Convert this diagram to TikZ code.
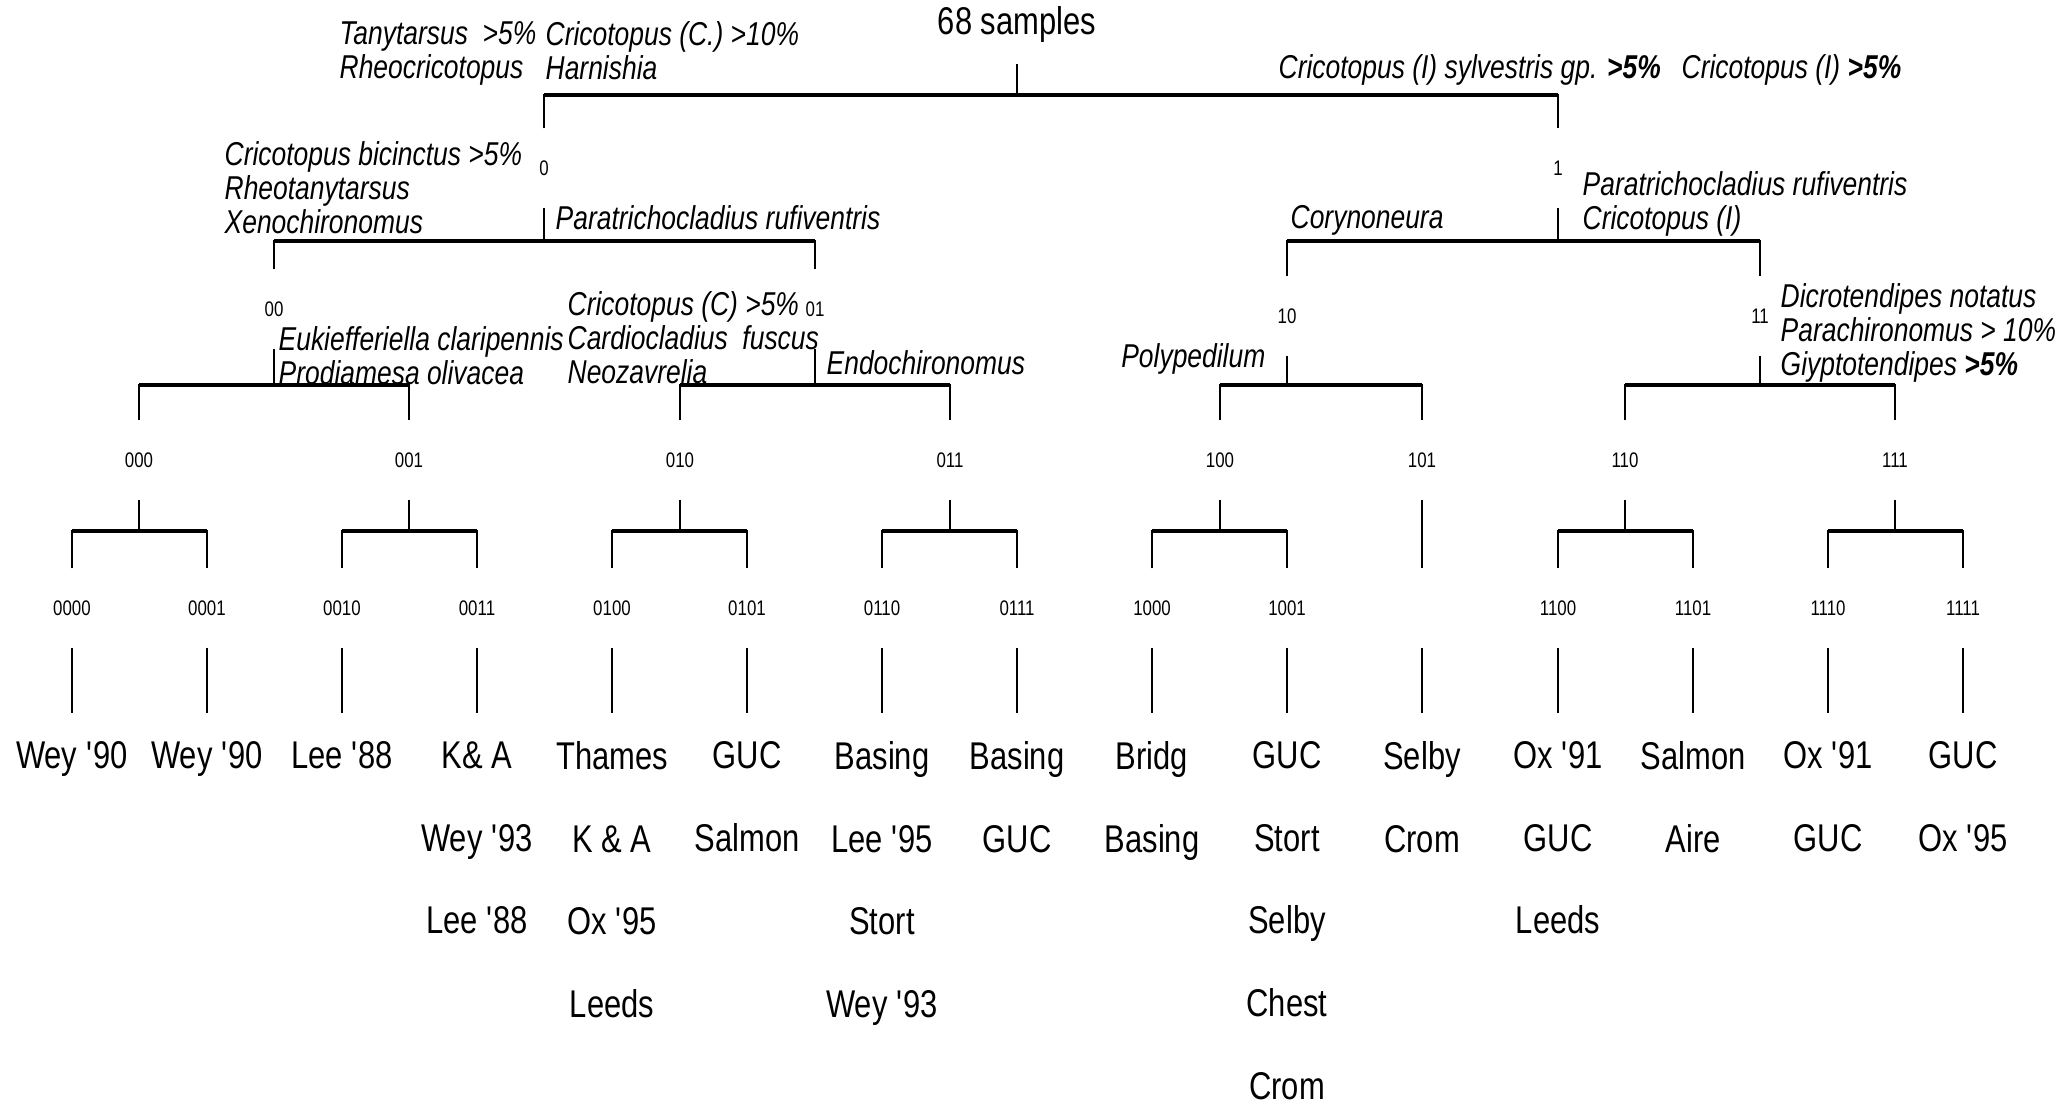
\documentclass[tikz,border=0pt]{standalone}
\usepackage{fontspec}
\setmainfont[FakeStretch=0.8]{Liberation Sans}
\usepackage{tikz}

\begin{document}
\begin{tikzpicture}[x=0.1mm, y=-0.1mm,
  code/.style={font=\fontsize{6}{7}\selectfont, inner sep=0pt, minimum height=7.8mm},
  taxon/.style={font=\fontsize{9.4}{9.7}\selectfont\itshape, align=left, anchor=north west, inner sep=0pt},
  site/.style={font=\fontsize{11}{23.5}\selectfont, align=center, anchor=north, inner sep=0pt},
  stem/.style={line width=0.6pt},
  stemdown/.style={stem, shorten >=2.8mm},
  bar/.style={line width=0.95pt}]

\useasboundingbox (0,0) rectangle (2062,1112);

% Levels of the horizontal bars
\coordinate (lev0) at (0,95);
\coordinate (lev1) at (0,241);
\coordinate (lev2) at (0,385);
\coordinate (lev3) at (0,531);

% Split codes
\node[code, font=\fontsize{11}{13}\selectfont] (root) at (1017,24) {68 samples};
\node[code] (n0) at (544,168) {0};
\node[code] (n1) at (1558,168) {1};
\node[code] (n00) at (274,309) {00};
\node[code] (n01) at (815,309) {01};
\node[code] (n10) at (1287,316) {10};
\node[code] (n11) at (1760,316) {11};
\node[code] (n000) at (139,460) {000};
\node[code] (n001) at (409,460) {001};
\node[code] (n010) at (680,460) {010};
\node[code] (n011) at (950,460) {011};
\node[code] (n100) at (1220,460) {100};
\node[code] (n101) at (1422,460) {101};
\node[code] (n110) at (1625,460) {110};
\node[code] (n111) at (1895,460) {111};
\node[code] (n0000) at (72,608) {0000};
\node[code] (n0001) at (207,608) {0001};
\node[code] (n0010) at (342,608) {0010};
\node[code] (n0011) at (477,608) {0011};
\node[code] (n0100) at (612,608) {0100};
\node[code] (n0101) at (747,608) {0101};
\node[code] (n0110) at (882,608) {0110};
\node[code] (n0111) at (1017,608) {0111};
\node[code] (n1000) at (1152,608) {1000};
\node[code] (n1001) at (1287,608) {1001};
\node[code] (n1010) at (1422,608) {};
\node[code] (n1100) at (1558,608) {1100};
\node[code] (n1101) at (1693,608) {1101};
\node[code] (n1110) at (1828,608) {1110};
\node[code] (n1111) at (1963,608) {1111};

% Indicator species
\node[taxon] (t1) at (339,21) {Tanytarsus\ \ >5\%\\Rheocricotopus};
\node[taxon] (t2) at (545,21) {Cricotopus (C.) >10\%\\Harnishia};
\node[taxon] (t3) at (1278,54) {Cricotopus (I) sylvestris gp. \textbf{>5\%}};
\node[taxon] (t4) at (1681,54) {Cricotopus (I) \textbf{>5\%}};
\node[taxon] (t5) at (224,141) {Cricotopus bicinctus >5\%\\Rheotanytarsus\\Xenochironomus};
\node[taxon] (t6) at (555,205) {Paratrichocladius rufiventris};
\node[taxon] (t7) at (1290,205) {Corynoneura};
\node[taxon] (t8) at (1582,171) {Paratrichocladius rufiventris\\Cricotopus (I)};
\node[taxon] (t9) at (278,326) {Eukiefferiella claripennis\\Prodiamesa olivacea};
\node[taxon] (t10) at (567,291) {Cricotopus (C) >5\%\\Cardiocladius\ \ fuscus\\Neozavrelia};
\node[taxon] (t11) at (826,350) {Endochironomus};
\node[taxon, anchor=north east] (t12) at (1266,343) {Polypedilum};
\node[taxon] (t13) at (1780,283) {Dicrotendipes notatus\\Parachironomus > 10\%\\Giyptotendipes \textbf{>5\%}};

% Sites at the end groups
\node[site] (s0000) at (72,741) {Wey \textquotesingle90};
\node[site] (s0001) at (207,741) {Wey \textquotesingle90};
\node[site] (s0010) at (342,741) {Lee \textquotesingle88};
\node[site] (s0011) at (477,741) {K\& A\\Wey \textquotesingle93\\Lee \textquotesingle88};
\node[site] (s0100) at (612,741) {Thames\\K \& A\\Ox \textquotesingle95\\Leeds};
\node[site] (s0101) at (747,741) {GUC\\Salmon};
\node[site] (s0110) at (882,741) {Basing\\Lee \textquotesingle95\\Stort\\Wey \textquotesingle93};
\node[site] (s0111) at (1017,741) {Basing\\GUC};
\node[site] (s1000) at (1152,741) {Bridg\\Basing};
\node[site] (s1001) at (1287,741) {GUC\\Stort\\Selby\\Chest\\Crom};
\node[site] (s1010) at (1422,741) {Selby\\Crom};
\node[site] (s1100) at (1558,741) {Ox \textquotesingle91\\GUC\\Leeds};
\node[site] (s1101) at (1693,741) {Salmon\\Aire};
\node[site] (s1110) at (1828,741) {Ox \textquotesingle91\\GUC};
\node[site] (s1111) at (1963,741) {GUC\\Ox \textquotesingle95};

% First split
\draw[stem] (root.south) -- (root.south |- lev0);
\draw[stem] (n0.north) |- (n1.north |- lev0) -- (n1.north);
\draw[bar] (n0.north |- lev0) -- (n1.north |- lev0);

% Second level
\draw[stem] (n0.south) -- (n0.south |- lev1);
\draw[stem] (n00.north) |- (n01.north |- lev1) -- (n01.north);
\draw[bar] (n00.north |- lev1) -- (n01.north |- lev1);
\draw[stem] (n1.south) -- (n1.south |- lev1);
\draw[stem] (n10.north) |- (n11.north |- lev1) -- (n11.north);
\draw[bar] (n10.north |- lev1) -- (n11.north |- lev1);

% Third level
\draw[stem] (n00.south) -- (n00.south |- lev2);
\draw[stem] (n000.north) |- (n001.north |- lev2) -- (n001.north);
\draw[bar] (n000.north |- lev2) -- (n001.north |- lev2);
\draw[stem] (n01.south) -- (n01.south |- lev2);
\draw[stem] (n010.north) |- (n011.north |- lev2) -- (n011.north);
\draw[bar] (n010.north |- lev2) -- (n011.north |- lev2);
\draw[stem] (n10.south) -- (n10.south |- lev2);
\draw[stem] (n100.north) |- (n101.north |- lev2) -- (n101.north);
\draw[bar] (n100.north |- lev2) -- (n101.north |- lev2);
\draw[stem] (n11.south) -- (n11.south |- lev2);
\draw[stem] (n110.north) |- (n111.north |- lev2) -- (n111.north);
\draw[bar] (n110.north |- lev2) -- (n111.north |- lev2);

% Fourth level
\draw[stem] (n000.south) -- (n000.south |- lev3);
\draw[stem] (n0000.north) |- (n0001.north |- lev3) -- (n0001.north);
\draw[bar] (n0000.north |- lev3) -- (n0001.north |- lev3);
\draw[stem] (n001.south) -- (n001.south |- lev3);
\draw[stem] (n0010.north) |- (n0011.north |- lev3) -- (n0011.north);
\draw[bar] (n0010.north |- lev3) -- (n0011.north |- lev3);
\draw[stem] (n010.south) -- (n010.south |- lev3);
\draw[stem] (n0100.north) |- (n0101.north |- lev3) -- (n0101.north);
\draw[bar] (n0100.north |- lev3) -- (n0101.north |- lev3);
\draw[stem] (n011.south) -- (n011.south |- lev3);
\draw[stem] (n0110.north) |- (n0111.north |- lev3) -- (n0111.north);
\draw[bar] (n0110.north |- lev3) -- (n0111.north |- lev3);
\draw[stem] (n100.south) -- (n100.south |- lev3);
\draw[stem] (n1000.north) |- (n1001.north |- lev3) -- (n1001.north);
\draw[bar] (n1000.north |- lev3) -- (n1001.north |- lev3);
\draw[stem] (n101.south) -- (n1010.north);
\draw[stem] (n110.south) -- (n110.south |- lev3);
\draw[stem] (n1100.north) |- (n1101.north |- lev3) -- (n1101.north);
\draw[bar] (n1100.north |- lev3) -- (n1101.north |- lev3);
\draw[stem] (n111.south) -- (n111.south |- lev3);
\draw[stem] (n1110.north) |- (n1111.north |- lev3) -- (n1111.north);
\draw[bar] (n1110.north |- lev3) -- (n1111.north |- lev3);

% Down to the sites
\draw[stemdown] (n0000.south) -- (s0000.north);
\draw[stemdown] (n0001.south) -- (s0001.north);
\draw[stemdown] (n0010.south) -- (s0010.north);
\draw[stemdown] (n0011.south) -- (s0011.north);
\draw[stemdown] (n0100.south) -- (s0100.north);
\draw[stemdown] (n0101.south) -- (s0101.north);
\draw[stemdown] (n0110.south) -- (s0110.north);
\draw[stemdown] (n0111.south) -- (s0111.north);
\draw[stemdown] (n1000.south) -- (s1000.north);
\draw[stemdown] (n1001.south) -- (s1001.north);
\draw[stemdown] (n1010.south) -- (s1010.north);
\draw[stemdown] (n1100.south) -- (s1100.north);
\draw[stemdown] (n1101.south) -- (s1101.north);
\draw[stemdown] (n1110.south) -- (s1110.north);
\draw[stemdown] (n1111.south) -- (s1111.north);

\end{tikzpicture}
\end{document}
